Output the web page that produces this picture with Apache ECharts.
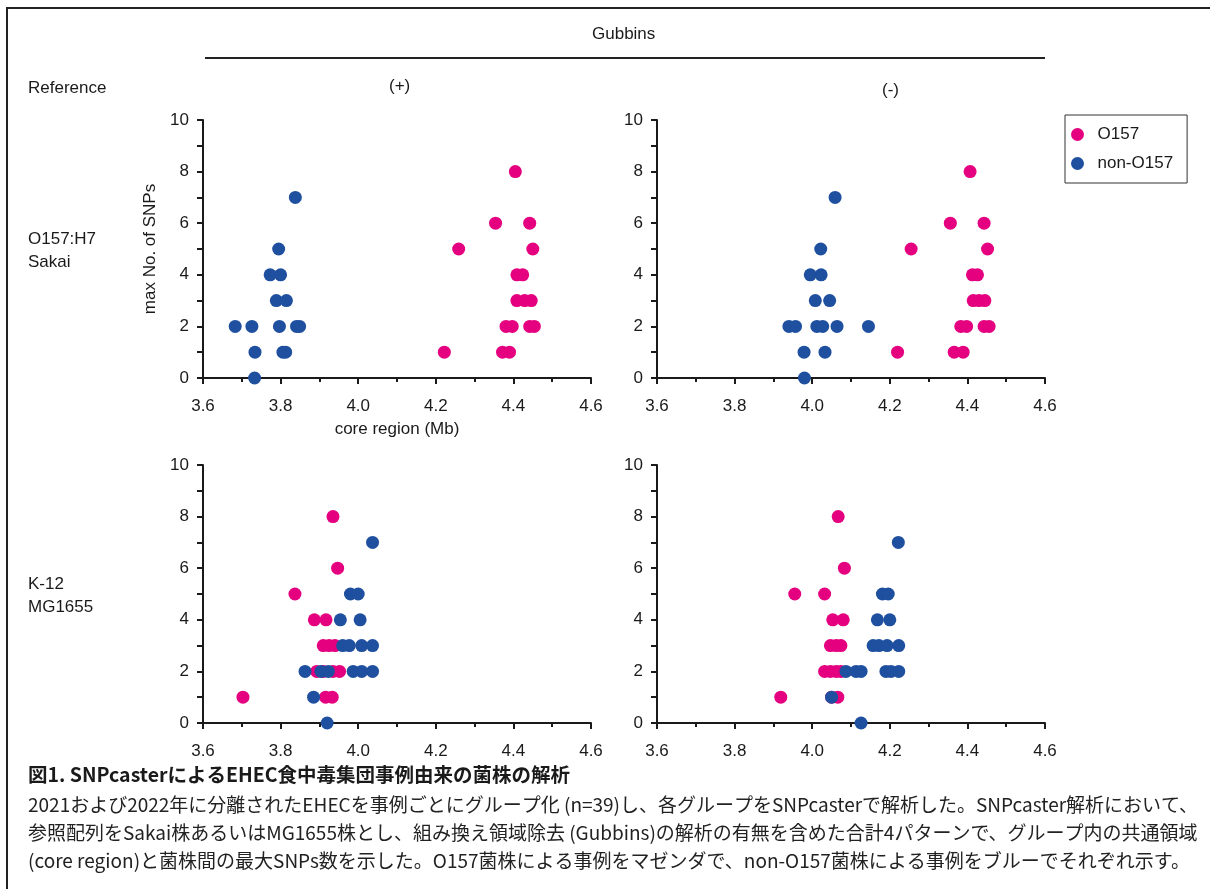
<!DOCTYPE html>
<html>
<head>
<meta charset="utf-8">
<script src="https://cdn.jsdelivr.net/npm/echarts@6/dist/echarts.min.js"></script>
<style>
  html, body { margin: 0; padding: 0; background: #fff; }
  #chart { width: 1210px; height: 889px; }
</style>
</head>
<body>
<div id="chart"></div>
<script>
// core region (Mb), max No. of SNPs
const sakaiPlusO157 = [[4.405, 8], [4.354, 6], [4.442, 6], [4.259, 5], [4.450, 5], [4.409, 4], [4.424, 4],
  [4.409, 3], [4.429, 3], [4.446, 3], [4.381, 2], [4.397, 2], [4.442, 2], [4.454, 2], [4.222, 1], [4.372, 1], [4.390, 1]]
const sakaiPlusNon = [[3.838, 7], [3.795, 5], [3.773, 4], [3.800, 4], [3.789, 3], [3.815, 3], [3.683, 2], [3.726, 2],
  [3.797, 2], [3.841, 2], [3.849, 2], [3.734, 1], [3.806, 1], [3.813, 1], [3.733, 0]]
const sakaiMinusO157 = [[4.407, 8], [4.356, 6], [4.443, 6], [4.255, 5], [4.452, 5], [4.413, 4], [4.426, 4],
  [4.415, 3], [4.430, 3], [4.445, 3], [4.383, 2], [4.398, 2], [4.443, 2], [4.456, 2], [4.220, 1], [4.366, 1], [4.389, 1]]
const sakaiMinusNon = [[4.059, 7], [4.022, 5], [3.995, 4], [4.023, 4], [4.008, 3], [4.045, 3], [3.940, 2], [3.957, 2],
  [4.012, 2], [4.027, 2], [4.064, 2], [4.145, 2], [3.979, 1], [4.033, 1], [3.980, 0]]
const k12PlusO157 = [[3.935, 8], [3.947, 6], [3.837, 5], [3.887, 4], [3.917, 4], [3.910, 3], [3.925, 3], [3.940, 3],
  [3.893, 2], [3.910, 2], [3.935, 2], [3.952, 2], [3.703, 1], [3.916, 1], [3.933, 1]]
const k12PlusNon = [[4.037, 7], [3.980, 5], [4.000, 5], [3.954, 4], [4.005, 4], [3.960, 3], [3.977, 3], [4.009, 3],
  [4.037, 3], [3.863, 2], [3.904, 2], [3.923, 2], [3.987, 2], [4.009, 2], [4.037, 2], [3.885, 1], [3.920, 0]]
const k12MinusO157 = [[4.067, 8], [4.083, 6], [3.955, 5], [4.032, 5], [4.053, 4], [4.080, 4], [4.047, 3], [4.062, 3],
  [4.074, 3], [4.032, 2], [4.047, 2], [4.062, 2], [4.074, 2], [3.919, 1], [4.050, 1], [4.066, 1]]
const k12MinusNon = [[4.222, 7], [4.181, 5], [4.196, 5], [4.168, 4], [4.200, 4], [4.157, 3], [4.172, 3], [4.193, 3],
  [4.223, 3], [4.087, 2], [4.113, 2], [4.126, 2], [4.190, 2], [4.203, 2], [4.223, 2], [4.050, 1], [4.126, 0]]

const seriesNames = ['O157', 'non-O157']
const colors = ['#e4007f', '#1f4f9f']
const panels = [
  [sakaiPlusO157, sakaiPlusNon],
  [sakaiMinusO157, sakaiMinusNon],
  [k12PlusO157, k12PlusNon],
  [k12MinusO157, k12MinusNon],
]

const font = '"Liberation Sans", Arial, sans-serif'
const jpFont = '"Noto Sans CJK JP", sans-serif'
const ink = '#1a1a1a'

const grids = [
  { left: 203, top: 120, width: 388, height: 258 },
  { left: 657, top: 120, width: 388, height: 258 },
  { left: 203, top: 465, width: 388, height: 258 },
  { left: 657, top: 465, width: 388, height: 258 },
]

const xAxes = grids.map((g, i) => ({
  type: 'value',
  gridIndex: i,
  min: 3.6,
  max: 4.6,
  interval: 0.2,
  name: i === 0 ? 'core region (Mb)' : '',
  nameLocation: 'middle',
  nameGap: 43,
  nameTextStyle: { fontFamily: font, fontSize: 17, color: ink },
  axisLine: { lineStyle: { color: ink, width: 2 } },
  axisTick: { length: 6, lineStyle: { color: ink, width: 2 } },
  minorTick: { show: true, splitNumber: 2, length: 4, lineStyle: { color: ink, width: 2 } },
  splitLine: { show: false },
  axisLabel: { fontFamily: font, fontSize: 17, color: ink, margin: 20, formatter: v => v.toFixed(1) },
}))

const yAxes = grids.map((g, i) => ({
  type: 'value',
  gridIndex: i,
  min: 0,
  max: 10,
  interval: 2,
  name: i === 0 ? 'max No. of SNPs' : '',
  nameLocation: 'middle',
  nameGap: 44,
  nameTextStyle: { fontFamily: font, fontSize: 17, color: ink },
  axisLine: { show: true, lineStyle: { color: ink, width: 2 } },
  axisTick: { show: true, length: 6, lineStyle: { color: ink, width: 2 } },
  minorTick: { show: true, splitNumber: 2, length: 6, lineStyle: { color: ink, width: 2 } },
  splitLine: { show: false },
  axisLabel: { fontFamily: font, fontSize: 17, color: ink, margin: 14 },
}))

const series = []
panels.forEach((pair, i) => {
  pair.forEach((pts, k) => {
    series.push({
      type: 'scatter',
      name: seriesNames[k],
      xAxisIndex: i,
      yAxisIndex: i,
      data: pts,
      symbol: 'circle',
      symbolSize: 13,
      itemStyle: { color: colors[k], opacity: 1 },
      z: 2 + k,
    })
  })
})

const txt = (x, y, text, extra) => ({
  type: 'text', left: x, top: y,
  style: Object.assign({ text, fontFamily: font, fontSize: 17, fill: ink }, extra || {}),
})

const captionLines = [
  '2021および2022年に分離されたEHECを事例ごとにグループ化 (n=39)し、各グループをSNPcasterで解析した。SNPcaster解析において、',
  '参照配列をSakai株あるいはMG1655株とし、組み換え領域除去 (Gubbins)の解析の有無を含めた合計4パターンで、グループ内の共通領域',
  '(core region)と菌株間の最大SNPs数を示した。O157菌株による事例をマゼンダで、non-O157菌株による事例をブルーでそれぞれ示す。',
]

const chart = echarts.init(document.getElementById('chart'))
chart.setOption({
  animation: false,
  backgroundColor: '#fff',
  grid: grids,
  xAxis: xAxes,
  yAxis: yAxes,
  legend: {
    data: seriesNames,
    orient: 'vertical',
    left: 1065,
    top: 115,
    padding: [11, 14, 11, 6],
    itemGap: 12,
    itemWidth: 30,
    itemHeight: 13,
    icon: 'circle',
    borderColor: '#333',
    borderWidth: 1,
    textStyle: { fontFamily: font, fontSize: 17, color: ink },
  },
  graphic: [
    { type: 'polyline', shape: { points: [[7, 889], [7, 8], [1210, 8]] }, style: { stroke: '#222', lineWidth: 2, fill: null } },
    { type: 'line', shape: { x1: 205, y1: 58, x2: 1045, y2: 58 }, style: { stroke: '#222', lineWidth: 2 } },
    txt(592, 26, 'Gubbins'),
    txt(28, 80, 'Reference'),
    txt(389, 78, '(+)'),
    txt(882, 82, '(-)'),
    txt(28, 231, 'O157:H7'),
    txt(28, 254, 'Sakai'),
    txt(28, 576, 'K-12'),
    txt(28, 599, 'MG1655'),
    txt(28, 765, '図1. SNPcasterによるEHEC食中毒集団事例由来の菌株の解析', { fontFamily: jpFont, fontSize: 19.5, fontWeight: 'bold' }),
    txt(28, 795, captionLines[0], { fontFamily: jpFont, fontSize: 19, fill: '#222' }),
    txt(28, 823, captionLines[1], { fontFamily: jpFont, fontSize: 19, fill: '#222' }),
    txt(28, 851, captionLines[2], { fontFamily: jpFont, fontSize: 19, fill: '#222' }),
  ],
  series,
})
window.addEventListener('resize', () => chart.resize())
</script>
</body>
</html>
